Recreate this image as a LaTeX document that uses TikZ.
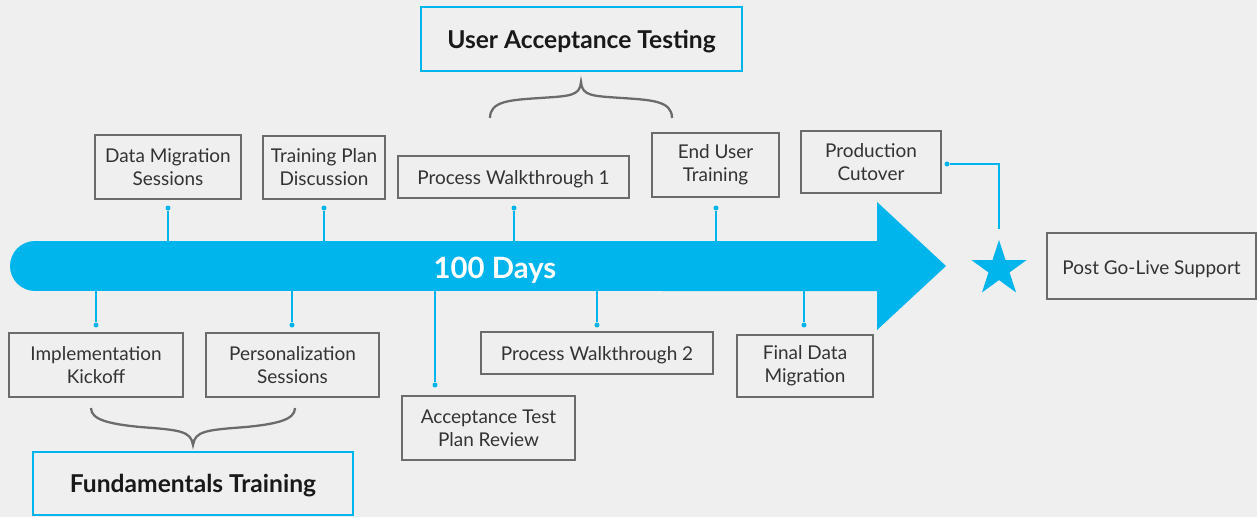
\documentclass[tikz,border=0pt]{standalone}
\usepackage{fontspec}
\setmainfont{Lato}
\usetikzlibrary{shapes.geometric}
\definecolor{daysblue}{RGB}{0,180,236}
\definecolor{boxgray}{RGB}{107,107,107}
\definecolor{textgray}{RGB}{51,51,51}
\definecolor{bggray}{RGB}{239,239,239}

\begin{document}
\begin{tikzpicture}[x=0.02cm,y=-0.02cm,
    task/.style={draw=boxgray,line width=1.1pt,inner sep=0pt,align=center,text=textgray,
        font=\fontsize{10.8}{13}\selectfont,execute at begin node={\rule{0pt}{11pt}}},
    phase/.style={draw=daysblue,line width=1.1pt,inner sep=0pt,text=black!90,
        font=\fontsize{14}{16}\selectfont\bfseries,execute at begin node={\rule{0pt}{13pt}}},
    stem/.style={daysblue,line width=0.8pt},
    tack/.style={circle,fill=daysblue,inner sep=0pt,minimum size=0.1cm},
    curly/.style={boxgray,line width=1.3pt}]
    \fill[bggray] (0,0) rectangle (1257,517);
    \useasboundingbox (0,0) rectangle (1257,517);

    % timeline
    \fill[daysblue] (35,241) arc[start angle=90,end angle=270,radius=0.5cm]
        -- (877,291) -- (877,330) -- (946,266) -- (877,202) -- (877,241) -- cycle;
    \coordinate (bartop) at (0,241);
    \coordinate (barbot) at (0,291);
    \node[text=white,font=\fontsize{16.7}{19}\selectfont\bfseries] (days) at (495,270.5) {100 Days};
    \node[star,star points=5,star point ratio=2.618,fill=daysblue,minimum size=1.16cm,inner sep=0pt] (golive) at (999,269) {};

    % above the line
    \node[task,minimum width=2.92cm,minimum height=1.28cm] (datamig) at (168,167) {Data Migration\\Sessions};
    \node[task,minimum width=2.44cm,minimum height=1.26cm] (trainplan) at (324,167.5) {Training Plan\\Discussion};
    \node[task,minimum width=4.62cm,minimum height=0.84cm] (walk1) at (513.5,177) {Process Walkthrough 1};
    \node[task,minimum width=2.54cm,minimum height=1.28cm] (enduser) at (715.5,165) {End User\\Training};
    \node[task,minimum width=2.80cm,minimum height=1.24cm] (cutover) at (871,162) {Production\\Cutover};
    \node[task,minimum width=4.18cm,minimum height=1.32cm] (support) at (1151.5,266) {Post Go-Live Support};

    % below the line
    \node[task,minimum width=3.48cm,minimum height=1.28cm] (kickoff) at (96,365) {Implementation\\Kickoff};
    \node[task,minimum width=3.46cm,minimum height=1.28cm] (personal) at (292.5,365) {Personalization\\Sessions};
    \node[task,minimum width=3.46cm,minimum height=1.28cm] (testplan) at (488.5,428) {Acceptance Test\\Plan Review};
    \node[task,minimum width=4.64cm,minimum height=0.84cm] (walk2) at (597,353) {Process Walkthrough 2};
    \node[task,minimum width=2.72cm,minimum height=1.24cm] (finalmig) at (805,366) {Final Data\\Migration};

    % phases
    \node[phase,minimum width=6.42cm,minimum height=1.28cm] (uat) at (581.5,39) {User Acceptance Testing};
    \node[phase,minimum width=6.40cm,minimum height=1.26cm] (fundamentals) at (193,483.5) {Fundamentals Training};

    % pins
    \node[tack] (datamigpin) at (168,208) {};
    \node[tack] (trainplanpin) at (324,208) {};
    \node[tack] (walk1pin) at (514,208) {};
    \node[tack] (enduserpin) at (716,208) {};
    \node[tack] (kickoffpin) at (96,325) {};
    \node[tack] (personalpin) at (292,325) {};
    \node[tack] (testplanpin) at (435,385) {};
    \node[tack] (walk2pin) at (597,325) {};
    \node[tack] (finalmigpin) at (804,325) {};
    \node[tack] (cutoverpin) at (947,164) {};

    \draw[stem] (datamigpin) -- (datamigpin |- bartop);
    \draw[stem] (trainplanpin) -- (trainplanpin |- bartop);
    \draw[stem] (walk1pin) -- (walk1pin |- bartop);
    \draw[stem] (enduserpin) -- (enduserpin |- bartop);
    \draw[stem] (kickoffpin) -- (kickoffpin |- barbot);
    \draw[stem] (personalpin) -- (personalpin |- barbot);
    \draw[stem] (testplanpin) -- (testplanpin |- barbot);
    \draw[stem] (walk2pin) -- (walk2pin |- barbot);
    \draw[stem] (finalmigpin) -- (finalmigpin |- barbot);
    \draw[stem,shorten >=0.2cm] (cutoverpin) -| (golive.north);

    % braces
    \draw[curly] (490,118) .. controls (490,101) and (510,100) .. (540,98)
        .. controls (570,96) and (580,96) .. (581,82)
        .. controls (582,96) and (592,96) .. (622,98)
        .. controls (652,100) and (672,101) .. (672,118);
    \draw[curly] (91,408) .. controls (91,420) and (110,424) .. (140,427)
        .. controls (180,430) and (191,431) .. (193,445)
        .. controls (195,431) and (206,430) .. (246,427)
        .. controls (276,424) and (295,420) .. (295,408);
\end{tikzpicture}
\end{document}
